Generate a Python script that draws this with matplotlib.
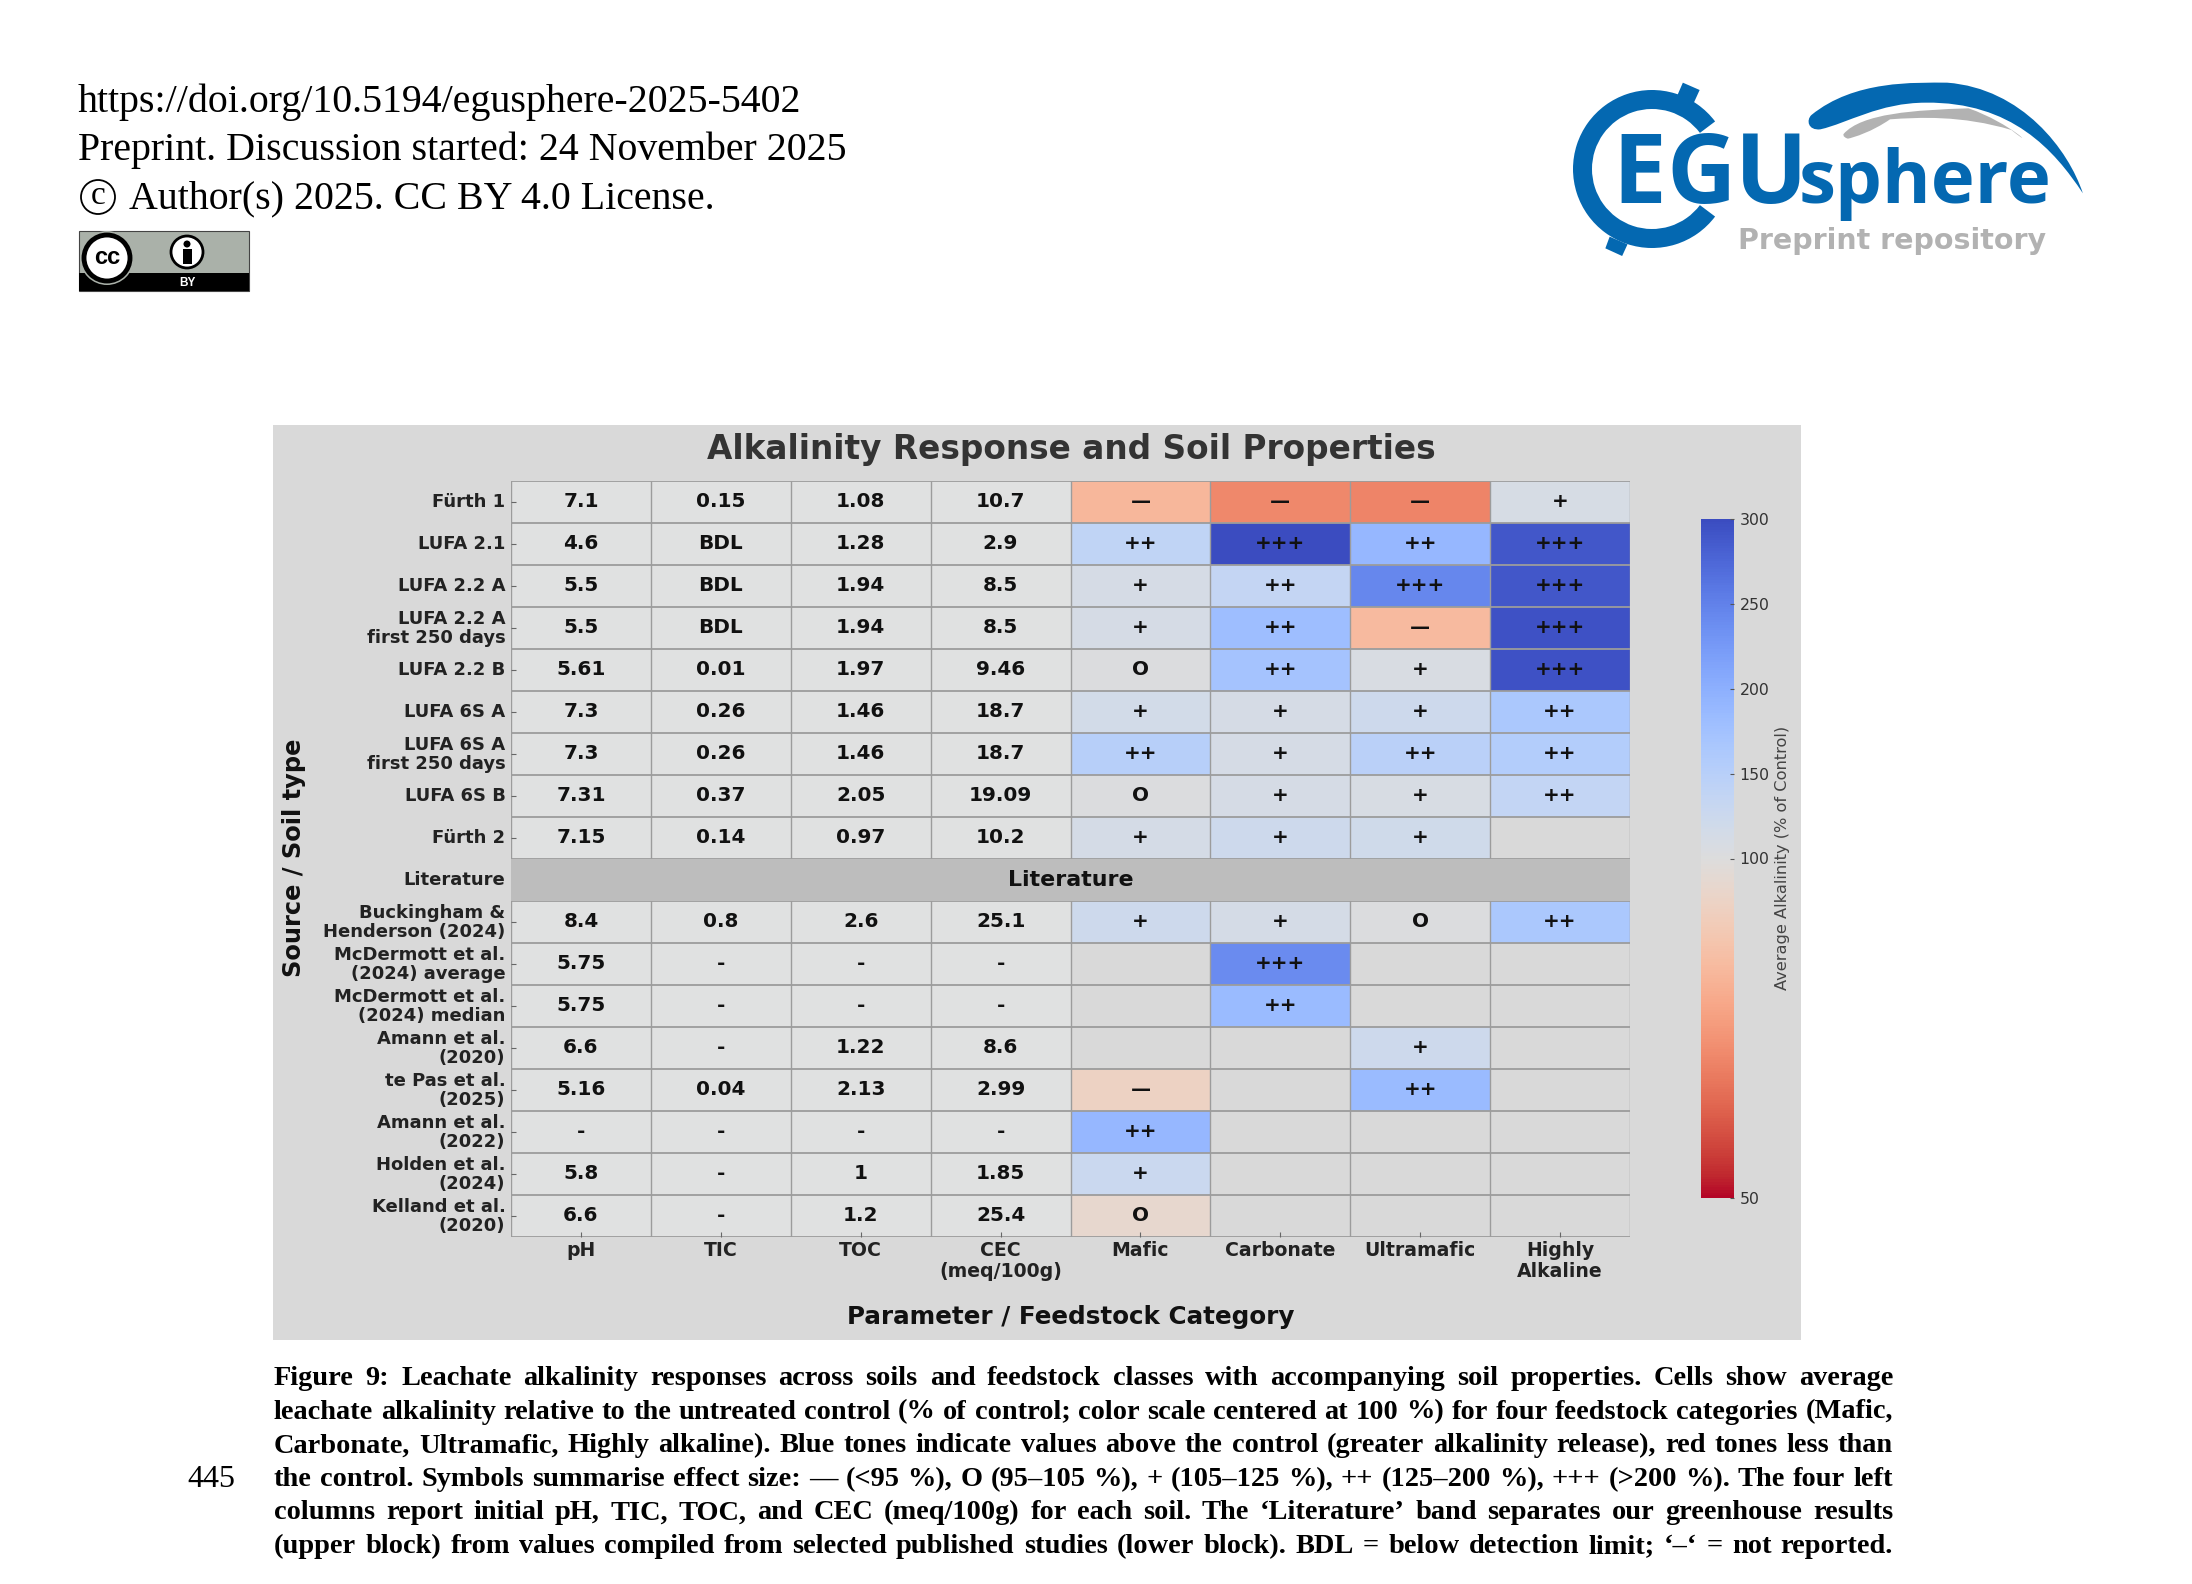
import numpy as np
import matplotlib
matplotlib.use("Agg")
import matplotlib.pyplot as plt
from matplotlib.colors import TwoSlopeNorm
from matplotlib.patches import Circle, PathPatch, Polygon, Rectangle, Wedge
from matplotlib.path import Path
from matplotlib.transforms import ScaledTranslation

# soil table
sources = ["Fürth 1", "LUFA 2.1", "LUFA 2.2 A", "LUFA 2.2 A\nfirst 250 days", "LUFA 2.2 B",
           "LUFA 6S A", "LUFA 6S A\nfirst 250 days", "LUFA 6S B", "Fürth 2", "Literature",
           "Buckingham &\nHenderson (2024)", "McDermott et al.\n(2024) average",
           "McDermott et al.\n(2024) median", "Amann et al.\n(2020)", "te Pas et al.\n(2025)",
           "Amann et al.\n(2022)", "Holden et al.\n(2024)", "Kelland et al.\n(2020)"]
columns = ["pH", "TIC", "TOC", "CEC\n(meq/100g)", "Mafic", "Carbonate", "Ultramafic", "Highly\nAlkaline"]

ph = ["7.1", "4.6", "5.5", "5.5", "5.61", "7.3", "7.3", "7.31", "7.15", "",
      "8.4", "5.75", "5.75", "6.6", "5.16", "-", "5.8", "6.6"]
tic = ["0.15", "BDL", "BDL", "BDL", "0.01", "0.26", "0.26", "0.37", "0.14", "",
       "0.8", "-", "-", "-", "0.04", "-", "-", "-"]
toc = ["1.08", "1.28", "1.94", "1.94", "1.97", "1.46", "1.46", "2.05", "0.97", "",
       "2.6", "-", "-", "1.22", "2.13", "-", "1", "1.2"]
cec = ["10.7", "2.9", "8.5", "8.5", "9.46", "18.7", "18.7", "19.09", "10.2", "",
       "25.1", "-", "-", "8.6", "2.99", "-", "1.85", "25.4"]

# average alkalinity, % of control
nan = np.nan
mafic = [83, 140, 112, 112, 102, 116, 150, 103, 114, nan, 122, nan, nan, nan, 93, 190, 128, 96]
carbonate = [71, 300, 135, 180, 172, 111, 111, 111, 122, nan, 114, 240, 185, nan, nan, nan, nan, nan]
ultramafic = [70, 190, 245, 84, 107, 122, 148, 109, 120, nan, 102, nan, nan, 122, 185, nan, nan, nan]
highly = [110, 290, 290, 295, 295, 165, 155, 136, nan, nan, 165, nan, nan, nan, nan, nan, nan, nan]

sym_mafic = ["—", "++", "+", "+", "O", "+", "++", "O", "+", "", "+", "", "", "", "—", "++", "+", "O"]
sym_carbonate = ["—", "+++", "++", "++", "++", "+", "+", "+", "+", "", "+", "+++", "++", "", "", "", "", ""]
sym_ultramafic = ["—", "++", "+++", "—", "+", "+", "++", "+", "+", "", "O", "", "", "+", "++", "", "", ""]
sym_highly = ["+", "+++", "+++", "+++", "+++", "++", "++", "++", "", "", "++", "", "", "", "", "", "", ""]

cbar_ticks = [50, 100, 150, 200, 250, 300]

header = ["https://doi.org/10.5194/egusphere-2025-5402",
          "Preprint. Discussion started: 24 November 2025",
          "Author(s) 2025. CC BY 4.0 License."]
caption = ["Figure 9: Leachate alkalinity responses across soils and feedstock classes with accompanying soil properties. Cells show average",
           "leachate alkalinity relative to the untreated control (% of control; color scale centered at 100 %) for four feedstock categories (Mafic,",
           "Carbonate, Ultramafic, Highly alkaline). Blue tones indicate values above the control (greater alkalinity release), red tones less than",
           "the control. Symbols summarise effect size: — (<95 %), O (95–105 %), + (105–125 %), ++ (125–200 %), +++ (>200 %). The four left",
           "columns report initial pH, TIC, TOC, and CEC (meq/100g) for each soil. The ‘Literature’ band separates our greenhouse results",
           "(upper block) from values compiled from selected published studies (lower block). BDL = below detection limit; ‘–‘ = not reported."]

W, H = 2192, 1584
PANEL = "#d9d9d9"
BLUE = "#0468b1"
GREY = "#b2b2b2"
SERIF = "Liberation Serif"
GRID = "#9c9c9c"

plt.rcParams["font.family"] = "DejaVu Sans"
fig = plt.figure(figsize=(W / 100, H / 100), dpi=100, facecolor="white")


def px_axes(x0, y0, x1, y1):
    return fig.add_axes([x0 / W, 1 - y1 / H, (x1 - x0) / W, (y1 - y0) / H])


# page in pixel coordinates, for everything around the chart
page = fig.add_axes([0, 0, 1, 1])
page.set_xlim(0, W)
page.set_ylim(H, 0)
page.axis("off")

page.text(78, 112, header[0], family=SERIF, fontsize=28.7, va="baseline")
page.text(78, 160, header[1], family=SERIF, fontsize=28.7, va="baseline")
page.text(129, 208, header[2], family=SERIF, fontsize=28.7, va="baseline")
page.add_patch(Circle((98, 197), 17, fc="none", ec="black", lw=1.3))
page.text(98, 196, "c", family=SERIF, fontsize=24, ha="center", va="center")

# cc-by badge
page.add_patch(Rectangle((79, 231), 170, 60, fc="#aab1a9", ec="#444444", lw=0.8))
page.add_patch(Rectangle((79, 273), 170, 18, fc="black", ec="black", lw=0))
page.add_patch(Circle((107, 258), 27, fc="#aab1a9", ec="none"))
page.add_patch(Circle((107, 258), 23, fc="white", ec="black", lw=3.5))
page.text(107, 258, "cc", fontsize=17, fontweight="bold", ha="center", va="center", family="Liberation Sans")
page.add_patch(Circle((187, 252), 16, fc="white", ec="black", lw=2))
page.add_patch(Circle((187, 244), 3.5, fc="black", ec="none"))
page.add_patch(Rectangle((182.5, 249), 9, 15, fc="black", ec="none"))
page.text(187, 283, "BY", fontsize=8.5, fontweight="bold", color="white", ha="center", va="center", family="Liberation Sans")


def lz(zx, zy):
    return 1540 + zx / 2.8, 60 + zy / 3


page.add_patch(Wedge((1652, 169), 79, 37, 323, width=19, fc=BLUE, ec="none"))
page.add_patch(Polygon([lz(400, 68), lz(447, 90), lz(430, 130), lz(385, 105)], fc=BLUE, ec="none"))
page.add_patch(Polygon([lz(195, 530), lz(245, 553), lz(230, 588), lz(183, 565)], fc=BLUE, ec="none"))

swoosh = [lz(760, 165), lz(880, 60), lz(1050, 68), lz(1140, 68), lz(1350, 85), lz(1480, 270), lz(1520, 400),
          lz(1440, 270), lz(1320, 125), lz(1080, 128), lz(950, 128), lz(860, 190), lz(785, 208),
          lz(750, 212), lz(745, 180), lz(760, 165)]
page.add_patch(PathPatch(Path(swoosh, [Path.MOVETO] + [Path.CURVE4] * 15), fc=BLUE, ec="none"))
swoosh2 = [lz(850, 222), lz(900, 160), lz(1050, 150), lz(1200, 145), lz(1320, 190), lz(1395, 275),
           lz(1320, 210), lz(1180, 165), lz(1060, 172), lz(980, 178), lz(930, 215), lz(880, 232),
           lz(862, 236), lz(845, 230), lz(850, 222), lz(850, 222)]
page.add_patch(PathPatch(Path(swoosh2, [Path.MOVETO] + [Path.CURVE4] * 15), fc=GREY, ec="none"))

for letter, x in [("E", 1612), ("G", 1666), ("U", 1735)]:
    page.text(x, 203, letter, family="Open Sans", fontweight="bold", fontsize=69, color=BLUE, va="baseline")
page.text(1799, 203, "sphere", family="Open Sans", fontweight="bold", fontsize=53.5, color=BLUE, va="baseline")
page.text(1738, 249, "Preprint repository", family="DejaVu Sans", fontweight="bold", fontsize=20.5, color=GREY, va="baseline")

# grey panel behind the figure
page.add_patch(Rectangle((273, 425), 1528, 915, fc=PANEL, ec="none"))

# heatmap
ax = px_axes(511, 481, 1630, 1237)
ax.set_facecolor(PANEL)
alkalinity = np.ma.masked_invalid(np.column_stack([mafic, carbonate, ultramafic, highly]).astype(float))
norm = TwoSlopeNorm(vmin=50, vcenter=100, vmax=300)
n_rows, n_cols = len(sources), len(columns)
mesh = ax.pcolormesh(np.arange(4, n_cols + 1), np.arange(n_rows + 1), alkalinity,
                     cmap="coolwarm_r", norm=norm, zorder=1)
ax.axvspan(0, 4, color="#e0e1e1", lw=0, zorder=0.5)
ax.hlines(np.arange(n_rows + 1), 0, n_cols, color=GRID, lw=1.3, zorder=1.5)
ax.vlines(np.arange(n_cols + 1), 0, n_rows, color=GRID, lw=1.0, zorder=1.5)
ax.axhspan(9, 10, color="#bdbdbd", lw=0, zorder=2)
ax.set_xlim(0, n_cols)
ax.set_ylim(n_rows, 0)

table = [ph, tic, toc, cec, sym_mafic, sym_carbonate, sym_ultramafic, sym_highly]
for j, col in enumerate(table):
    for i, val in enumerate(col):
        if val:
            ax.text(j + 0.5, i + 0.45, val, ha="center", va="center_baseline", fontsize=14.4,
                    fontweight="bold", color="#111111", zorder=3)
ax.text(4, 9.45, "Literature", ha="center", va="center_baseline", fontsize=15.9, fontweight="bold",
        color="#111111", zorder=3)

for s in ax.spines.values():
    s.set_visible(False)
ax.set_xticks(np.arange(n_cols) + 0.5, columns)
ax.set_yticks(np.arange(n_rows) + 0.5, sources)
ax.tick_params(axis="both", direction="in", length=3.5, width=0.8, color="#666666")
ax.tick_params(axis="x", pad=3)
ax.tick_params(axis="y", pad=4)
nudge = ScaledTranslation(0, 2 / 100, fig.dpi_scale_trans)
for lab in ax.get_yticklabels():
    lab.set_fontsize(13)
    lab.set_linespacing(1.08)
    lab.set_transform(lab.get_transform() + nudge)
for lab in ax.get_xticklabels():
    lab.set_fontsize(13.6)
    lab.set_linespacing(1.12)
for lab in ax.get_xticklabels() + ax.get_yticklabels():
    lab.set_fontweight("bold")
    lab.set_color("#222222")

page.text(1071, 450, "Alkalinity Response and Soil Properties", fontsize=23.6, fontweight="bold",
          color="#333333", ha="center", va="center")
page.text(1071, 1317, "Parameter / Feedstock Category", fontsize=17.7, fontweight="bold", color="#111111",
          ha="center", va="center")
page.text(294, 858, "Source / Soil type", fontsize=17.4, fontweight="bold", color="#111111",
          ha="center", va="center", rotation=90)

# colorbar
cax = px_axes(1701, 519, 1734, 1198)
cb = fig.colorbar(mesh, cax=cax)
cb.set_ticks(cbar_ticks)
cb.outline.set_visible(False)
cb.ax.tick_params(direction="in", length=3, width=0.8, color="#555555", labelsize=11.3, labelcolor="#333333", pad=4)
page.text(1783, 858, "Average Alkalinity (% of Control)", fontsize=11.7, color="#444444",
          ha="center", va="center", rotation=90)

# caption, spread to both margins like the typeset page
rend = fig.canvas.get_renderer()
cap_left, cap_right = 274, 1893
for n, line in enumerate(caption):
    y = 1385 + n * 33.6
    words = line.split(" ")
    items = [page.text(cap_left, y, w, family=SERIF, fontweight="bold", fontsize=20.4, va="baseline")
             for w in words]
    widths = [t.get_window_extent(rend).width for t in items]
    gap = (cap_right - cap_left - sum(widths)) / (len(words) - 1)
    x = cap_left
    for t, w in zip(items, widths):
        t.set_x(x)
        x += w + gap
page.text(187, 1487, "445", family=SERIF, fontsize=23, va="baseline")

fig.savefig("out.png", dpi=100, facecolor="white")
